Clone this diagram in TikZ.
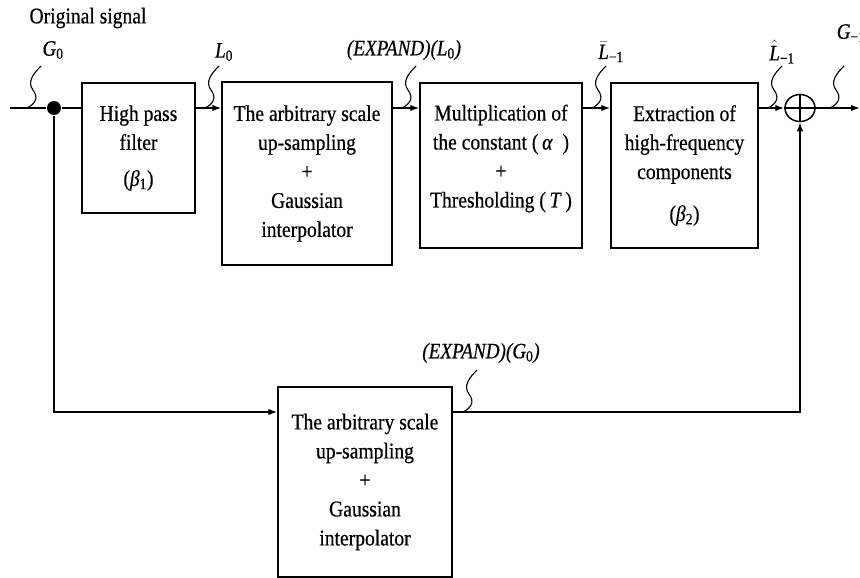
\documentclass[tikz,border=0pt]{standalone}
\usepackage{fontspec}
\setmainfont{Liberation Serif}[FakeStretch=0.87,FakeBold=0.5]
\usetikzlibrary{arrows.meta,shapes.geometric}
\begin{document}
\begin{tikzpicture}[x=1pt,y=-1pt,
  line width=1.5pt,
  box/.style={draw,line width=1.4pt,rectangle,inner sep=0pt,align=center,font=\fontsize{22.5}{29}\selectfont},
  txt/.style={inner sep=0pt,align=center,font=\fontsize{22.5}{29}\selectfont},
  lbl/.style={inner sep=0pt,font=\fontsize{22}{26}\selectfont\itshape},
  arr/.style={-{Latex[length=9pt,width=6.5pt]}},
  squig/.pic={\draw[line width=1.1pt] (0,0) .. controls (8,-4) and (12,-10) .. (6,-18) .. controls (0,-26) and (6,-34) .. (14,-42);}]
\useasboundingbox (0,0) rectangle (860,578);

% boxes
\node[box,minimum width=113pt,minimum height=130pt] (b1) at (138.5,148) {High pass\\filter\\[7pt](\textit{β}\textsubscript{1})};
\node[box,minimum width=170pt,minimum height=183pt] (b2) at (307,173.5) {The arbitrary scale\\up-sampling\\+\\Gaussian\\interpolator};
\node[box,minimum width=162pt,minimum height=165pt] (b3) at (501,165.5) {};
\node[txt] (b3t) at (501,158.5) {Multiplication of\\the constant (\,\textit{α}\ \ )\\+\\Thresholding (\,\textit{T}\,)};
\node[box,minimum width=147pt,minimum height=165pt] (b4) at (684.5,165.5) {Extraction of\\high-frequency\\components\\[13pt](\textit{β}\textsubscript{2})};
\node[box,minimum width=174pt,minimum height=190pt] (b5) at (365,482) {The arbitrary scale\\up-sampling\\+\\Gaussian\\interpolator};

% junctions
\coordinate (in) at (10,108);
\node[circle,fill,inner sep=0pt,minimum size=14pt] (dot) at (54,108) {};
\node[draw,ellipse,line width=1.5pt,inner sep=0pt,minimum width=30pt,minimum height=27pt] (sum) at (800,108) {};
\draw (sum.north) -- (sum.south) (sum.west) -- (sum.east);
\coordinate (out) at (860,108);
\coordinate (c1) at (54,412);
\coordinate (c2) at (800,412);

% connectors
\draw (in) -- (dot) -- (dot -| b1.west);
\draw[arr] (b1.east |- dot) -- (b2.west |- dot);
\draw[arr] (b2.east |- dot) -- (b3.west |- dot);
\draw[arr] (b3.east |- dot) -- (b4.west |- dot);
\draw[arr] (b4.east |- dot) -- (sum.west);
\draw[arr] (sum.east) -- (out);
\draw[arr] (dot) -- (c1) -- (c1 -| b5.west);
\draw[arr] (c1 -| b5.east) -- (c2) -- (sum.south);

% signal markers
\pic at (27,108) {squig};
\pic at (205,108) {squig};
\pic at (402,108) {squig};
\pic at (592,108) {squig};
\pic at (768,108) {squig};
\pic at (830,108) {squig};
\pic at (463,412) {squig};

% labels
\node[txt] (orig) at (88,18) {Original signal};
\node[lbl] (g0) at (53,50) {G\textsubscript{\upshape 0}};
\node[lbl] (l0) at (224,52) {L\textsubscript{\upshape 0}};
\node[lbl] (el0) at (404,50) {(EXPAND)(L\textsubscript{\upshape 0})};
\node[lbl] (lbar) at (611,52) {$\bar{\hbox{\itshape L}}$\textsubscript{\upshape −1}};
\node[lbl] (lhat) at (782,52) {$\hat{\hbox{\itshape L}}$\textsubscript{\upshape −1}};
\node[lbl,anchor=west] (gm1) at (836,33) {G\textsubscript{\upshape −1}};
\node[lbl] (eg0) at (481,353) {(EXPAND)(G\textsubscript{\upshape 0})};
\end{tikzpicture}
\end{document}
